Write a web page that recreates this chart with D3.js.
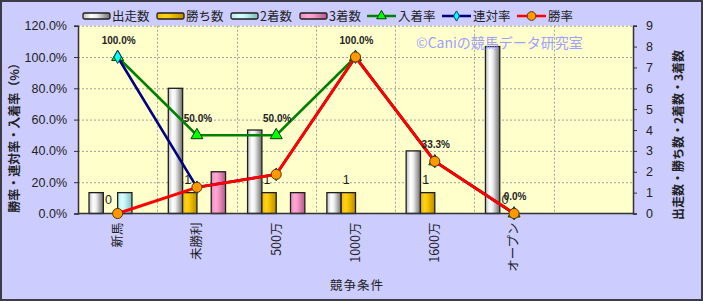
<!DOCTYPE html>
<html>
<head>
<meta charset="utf-8">
<script src="https://cdn.jsdelivr.net/npm/d3@7"></script>
<style>
body{ margin:0; background:#ccccff; }
text{ font-family:"Noto Sans CJK JP","Noto Sans",sans-serif; fill:#222; }
</style>
</head>
<body>
<script>
// race classes (last slot is empty in the original chart)
var categories = ["新馬", "未勝利", "500万", "1000万", "1600万", "オープン", ""];

// counts (right axis)
var starts  = [1, 6, 4, 1, 3, 8, null];
var wins    = [0, 1, 1, 1, 1, 0, null];
var seconds = [1, 0, 0, 0, 0, 0, null];
var thirds  = [0, 2, 1, 0, 0, 0, null];

// rates in % (left axis)
var placeRate  = [100, 50, 50, 100, 33.3, 0];
var rentaiRate = [100, 16.7, 25, 100, 33.3, 0];
var winRate    = [0, 16.7, 25, 100, 33.3, 0];

var leftTicks  = [0, 20, 40, 60, 80, 100, 120];
var rightTicks = [0, 1, 2, 3, 4, 5, 6, 7, 8, 9];

var barNames  = ["出走数", "勝ち数", "2着数", "3着数"];
var lineNames = ["入着率", "連対率", "勝率"];

class ComboChart{
	constructor(width, height, margin){
		this.totalWidth = width;
		this.totalHeight = height;
		this.margin = margin;
		this.width = width - margin.left - margin.right;
		this.height = height - margin.top - margin.bottom;

		var that = this;

		this.svg = d3.select("body")
					.append("svg")
					.attr("width", width)
					.attr("height", height);

		this.defs = this.svg.append("defs");
		this.makeGradient("gGray",  ["#bdbdbd", "#ffffff", "#eeeeee", "#6e6e6e"]);
		this.makeGradient("gGold",  ["#f0b800", "#ffd21a", "#f5c400", "#b88a00"]);
		this.makeGradient("gCyan",  ["#aee8e8", "#d8ffff", "#c4f8f8", "#7fbcbc"]);
		this.makeGradient("gPink",  ["#e88ab8", "#ffaad4", "#f797c6", "#b05a88"]);

		this.svg.append("rect")
			.attr("x", 1).attr("y", 1)
			.attr("width", width - 2).attr("height", height - 2)
			.attr("fill", "#ccccff")
			.attr("stroke", "#3c3c46")
			.attr("stroke-width", 2);

		this.g = this.svg.append("g")
				.attr("transform", "translate(" + margin.left + "," + margin.top + ")");

		this.g.append("rect")
			.attr("width", this.width)
			.attr("height", this.height)
			.attr("fill", "#ffffcc");

		this.xScale = d3.scaleBand().domain(categories).range([0, this.width]);
		this.xInner = d3.scaleBand().domain(barNames)
						.range([0, this.xScale.bandwidth()])
						.paddingOuter(0.77);
		this.yLeft = d3.scaleLinear().domain([0, 120]).range([this.height, 0]);
		this.yRight = d3.scaleLinear().domain([0, 9]).range([this.height, 0]);
	}

	makeGradient(id, cols){
		var grad = this.defs.append("linearGradient")
					.attr("id", id)
					.attr("x1", "0").attr("x2", "1").attr("y1", "0").attr("y2", "0");
		var offs = [0, 0.3, 0.5, 1];
		cols.forEach(function(c, i){
			grad.append("stop").attr("offset", offs[i]).attr("stop-color", c);
		});
	}

	drawGrid(){
		var that = this;
		this.g.append("g")
			.selectAll("line")
			.data(leftTicks.slice(1))
			.enter().append("line")
			.attr("x1", 0).attr("x2", that.width)
			.attr("y1", function(d){ return that.yLeft(d) + 0.5; })
			.attr("y2", function(d){ return that.yLeft(d) + 0.5; })
			.attr("stroke", "#a0a0a0")
			.attr("stroke-dasharray", "2,2");

		this.g.append("g")
			.selectAll("line")
			.data(categories.slice(1))
			.enter().append("line")
			.attr("x1", function(d){ return Math.round(that.xScale(d)) + 0.5; })
			.attr("x2", function(d){ return Math.round(that.xScale(d)) + 0.5; })
			.attr("y1", 0).attr("y2", that.height)
			.attr("stroke", "#a0a0a0")
			.attr("stroke-dasharray", "2,2");
	}

	drawAxes(){
		var that = this;
		var yAxisL = d3.axisLeft(that.yLeft).tickValues(leftTicks)
					.tickSize(4).tickPadding(7)
					.tickFormat(function(d){ return d.toFixed(1) + "%"; });
		var yAxisR = d3.axisRight(that.yRight).tickValues(rightTicks)
					.tickSize(4).tickPadding(9);

		var gl = this.g.append("g").attr("class", "yAxisL").call(yAxisL);
		var gr = this.g.append("g").attr("class", "yAxisR")
					.attr("transform", "translate(" + that.width + ",0)")
					.call(yAxisR);

		[gl, gr].forEach(function(a){
			a.select(".domain").attr("stroke", "#333").attr("stroke-width", 1.5);
			a.selectAll(".tick line").attr("stroke", "#333");
			a.selectAll(".tick text").attr("font-size", "12.5px").attr("fill", "#3a3a3a")
				.style("font-family", "'Liberation Sans',Arial,sans-serif");
		});

		this.g.append("line")
			.attr("x1", 0).attr("x2", that.width)
			.attr("y1", that.height).attr("y2", that.height)
			.attr("stroke", "#333").attr("stroke-width", 1.5);

		// category labels, rotated
		this.g.append("g")
			.selectAll("text")
			.data(categories)
			.enter().append("text")
			.attr("transform", function(d){
				return "translate(" + (that.xScale(d) + that.xScale.bandwidth() / 2) + "," + (that.height + 9) + ") rotate(-90)";
			})
			.attr("text-anchor", "end")
			.attr("dy", "0.35em")
			.attr("font-size", "12.5px")
			.text(function(d){ return d; });

		this.svg.append("text")
			.attr("x", 357).attr("y", 290)
			.attr("text-anchor", "middle")
			.attr("font-size", "12.5px")
			.attr("letter-spacing", "1px")
			.attr("fill", "#333")
			.text("競争条件");

		this.svg.append("text")
			.attr("transform", "translate(15,135) rotate(-90)")
			.attr("text-anchor", "middle")
			.attr("dy", "0.35em")
			.attr("font-size", "12px")
			.attr("font-weight", "bold")
			.text("勝率・連対率・入着率（%）");

		this.svg.append("text")
			.attr("transform", "translate(679,135) rotate(-90)")
			.attr("text-anchor", "middle")
			.attr("dy", "0.35em")
			.attr("font-size", "12px")
			.attr("font-weight", "bold")
			.text("出走数・勝ち数・2着数・3着数");
	}

	drawBars(){
		var that = this;
		var series = [starts, wins, seconds, thirds];
		var fills = ["url(#gGray)", "url(#gGold)", "url(#gCyan)", "url(#gPink)"];

		series.forEach(function(vals, si){
			var rows = categories.map(function(c, i){ return {cat: c, v: vals[i]}; })
						.filter(function(d){ return d.v; });
			that.g.append("g")
				.selectAll("rect")
				.data(rows)
				.enter().append("rect")
				.attr("x", function(d){ return that.xScale(d.cat) + that.xInner(barNames[si]); })
				.attr("y", function(d){ return that.yRight(d.v); })
				.attr("width", that.xInner.bandwidth())
				.attr("height", function(d){ return that.height - that.yRight(d.v); })
				.attr("fill", fills[si])
				.attr("stroke", "#1e1e1e")
				.attr("stroke-width", 1.3);
		});

		// labels on the win counts
		var winRows = categories.map(function(c, i){ return {cat: c, v: wins[i]}; })
						.filter(function(d){ return d.v != null; });
		that.g.append("g")
			.selectAll("text")
			.data(winRows)
			.enter().append("text")
			.attr("x", function(d){ return that.xScale(d.cat) + that.xInner("勝ち数") + that.xInner.bandwidth() / 2 - 2; })
			.attr("y", function(d){ return that.yRight(d.v) - 9; })
			.attr("text-anchor", "middle")
			.attr("font-size", "12.5px")
			.style("font-family", "'Liberation Sans',Arial,sans-serif")
			.text(function(d){ return d.v; });
	}

	drawLines(){
		var that = this;
		var cx = function(i){ return that.xScale(categories[i]) + that.xScale.bandwidth() / 2; };
		var specs = [
			{vals: placeRate,  color: "#008000", w: 2.6, sym: d3.symbolTriangle, size: 62, fill: "#00ff00", st: "#004000"},
			{vals: rentaiRate, color: "#000080", w: 2.6, sym: d3.symbolDiamond,  size: 48, fill: "#00ffff", st: "#004060"},
			{vals: winRate,    color: "#ff0000", w: 3,   sym: d3.symbolCircle,   size: 80, fill: "#ff9900", st: "#5a3000"}
		];

		specs.forEach(function(s){
			var line = d3.line()
						.x(function(d, i){ return cx(i); })
						.y(function(d){ return that.yLeft(d); });
			that.g.append("path")
				.datum(s.vals)
				.attr("d", line)
				.attr("fill", "none")
				.attr("stroke", s.color)
				.attr("stroke-width", s.w);
			that.g.append("g")
				.selectAll("path")
				.data(s.vals)
				.enter().append("path")
				.attr("d", d3.symbol().type(s.sym).size(s.size))
				.attr("transform", function(d, i){ return "translate(" + cx(i) + "," + that.yLeft(d) + ")"; })
				.attr("fill", s.fill)
				.attr("stroke", s.st)
				.attr("stroke-width", 1);
		});

		// 入着率 labels
		that.g.append("g")
			.selectAll("text")
			.data(placeRate)
			.enter().append("text")
			.attr("x", function(d, i){ return cx(i) + 1; })
			.attr("y", function(d){ return that.yLeft(d) - 13; })
			.attr("text-anchor", "middle")
			.attr("font-size", "10px")
			.attr("font-weight", "bold")
			.attr("fill", "#111")
			.style("font-family", "'Liberation Sans',Arial,sans-serif")
			.text(function(d){ return d.toFixed(1) + "%"; });
	}

	drawLegend(){
		var that = this;
		var fills = ["url(#gGray)", "url(#gGold)", "url(#gCyan)", "url(#gPink)"];
		var barX = [83, 157, 231, 300];
		var y = 16;
		barNames.forEach(function(n, i){
			that.svg.append("rect")
				.attr("x", barX[i]).attr("y", y - 3)
				.attr("width", 27).attr("height", 6)
				.attr("rx", 1.5)
				.attr("fill", fills[i])
				.attr("stroke", "#1e1e1e").attr("stroke-width", 1.3);
			that.svg.append("text")
				.attr("x", barX[i] + 29).attr("y", y)
				.attr("dy", "0.36em")
				.attr("font-size", "12.5px")
				.attr("fill", "#333")
				.text(n);
		});

		var lineX = [367, 442, 517];
		var lc = [["#008000", d3.symbolTriangle, 40, "#00ff00", "#004000"],
				  ["#000080", d3.symbolDiamond, 30, "#00ffff", "#004060"],
				  ["#ff0000", d3.symbolCircle, 60, "#ff9900", "#5a3000"]];
		lineNames.forEach(function(n, i){
			that.svg.append("line")
				.attr("x1", lineX[i]).attr("x2", lineX[i] + 29)
				.attr("y1", y).attr("y2", y)
				.attr("stroke", lc[i][0]).attr("stroke-width", 2.5);
			that.svg.append("path")
				.attr("d", d3.symbol().type(lc[i][1]).size(lc[i][2]))
				.attr("transform", "translate(" + (lineX[i] + 14.5) + "," + y + ")")
				.attr("fill", lc[i][3]).attr("stroke", lc[i][4]);
			that.svg.append("text")
				.attr("x", lineX[i] + 31).attr("y", y)
				.attr("dy", "0.36em")
				.attr("font-size", "12.5px")
				.attr("fill", "#333")
				.text(n);
		});

		// watermark
		that.svg.append("text")
			.attr("x", 416).attr("y", 48)
			.attr("font-size", "14px")
			.style("fill", "#a0a0ff")
			.text("©Caniの競馬データ研究室");
	}
}

var chart = new ComboChart(703, 301, {top: 25.7, right: 70, bottom: 87.5, left: 78});
chart.drawGrid();
chart.drawBars();
chart.drawAxes();
chart.drawLines();
chart.drawLegend();
</script>
</body>
</html>
